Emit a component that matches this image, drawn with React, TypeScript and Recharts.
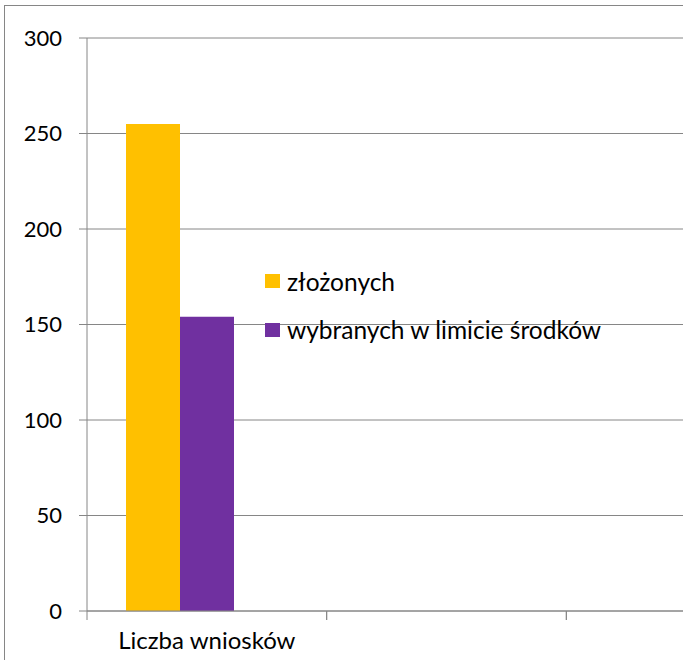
import React from "react";
import { Bar, BarChart, CartesianGrid, Legend, XAxis, YAxis } from "recharts";

const categories = ["Liczba wniosków", "", ""];
const submitted = [255, null, null];
const selected = [154, null, null];
const extra = [null, null, null];
const seriesNames = ["złożonych", "wybranych w limicie środków"];
const yTicks = [0, 50, 100, 150, 200, 250, 300];

const data = categories.map((name, i) => ({
  name,
  submitted: submitted[i],
  selected: selected[i],
  extra: extra[i]
}));

const GRAY = "#868686";
const FONT = "Lato, 'Noto Sans', sans-serif";
const X_TICK_SIZE = 6;
const X_TICK_MARGIN = 15;

// Excel-style category axis: tick marks sit on the band edges, label in the middle
function CategoryTick({ x, y, payload }: any) {
  const half = payload && typeof payload.offset === "number" ? payload.offset : 0;
  const axisY = y - X_TICK_SIZE - X_TICK_MARGIN;
  return (
    <g>
      <line x1={x - half} x2={x - half} y1={axisY} y2={axisY + 9} stroke={GRAY} />
      <line x1={x + half} x2={x + half} y1={axisY} y2={axisY + 9} stroke={GRAY} />
      <text x={x} y={y} dy="0.71em" textAnchor="middle" fill="#000" fontSize={24} fontFamily={FONT}>
        {payload.value}
      </text>
    </g>
  );
}

function LegendBox({ payload }: any) {
  const items = seriesNames
    .map((n) => (payload || []).find((p: any) => p.value === n))
    .filter(Boolean);
  return (
    <div style={{ fontFamily: FONT, fontSize: 24.5, color: "#000", whiteSpace: "nowrap" }}>
      {items.map((p: any) => (
        <div key={p.value} style={{ display: "flex", alignItems: "center", height: 48.5 }}>
          <span
            style={{ width: 15, height: 14, flexShrink: 0, background: p.color, marginRight: 7, display: "inline-block" }}
          />
          <span>{p.value}</span>
        </div>
      ))}
    </div>
  );
}

export default function App() {
  return (
    <div style={{ position: "fixed", left: 0, top: 0, width: 683, height: 660, overflow: "hidden", background: "#fff" }}>
      <div
        style={{
          position: "absolute",
          left: 4,
          top: 5,
          width: 1000,
          height: 1000,
          border: `1px solid ${GRAY}`
        }}
      />
      <div style={{ position: "absolute", left: 0, top: 0 }}>
        <BarChart
          width={826}
          height={680}
          data={data}
          margin={{ top: 38, right: 20, left: 0, bottom: 9 }}
          barGap={0}
        >
          <CartesianGrid vertical={false} stroke={GRAY} />
          <XAxis
            dataKey="name"
            tickLine={false}
            axisLine={{ stroke: GRAY }}
            tickSize={X_TICK_SIZE}
            tickMargin={X_TICK_MARGIN}
            height={60}
            interval={0}
            tick={<CategoryTick />}
          />
          <YAxis
            domain={[0, 300]}
            ticks={yTicks}
            width={87}
            tickSize={8}
            tickMargin={17}
            axisLine={{ stroke: GRAY }}
            tickLine={{ stroke: GRAY }}
            tick={{ fill: "#000", fontSize: 22, fontFamily: FONT }}
            interval={0}
          />
          <Legend
            layout="vertical"
            content={<LegendBox />}
            wrapperStyle={{ left: 265, top: 257, width: 0, height: 0, overflow: "visible" }}
          />
          <Bar dataKey="submitted" name="złożonych" fill="#FFC000" barSize={54} isAnimationActive={false} />
          <Bar dataKey="selected" name="wybranych w limicie środków" fill="#7030A0" barSize={54} isAnimationActive={false} />
          <Bar dataKey="extra" name="" fill="#4F81BD" barSize={54} legendType="none" isAnimationActive={false} />
        </BarChart>
      </div>
    </div>
  );
}
